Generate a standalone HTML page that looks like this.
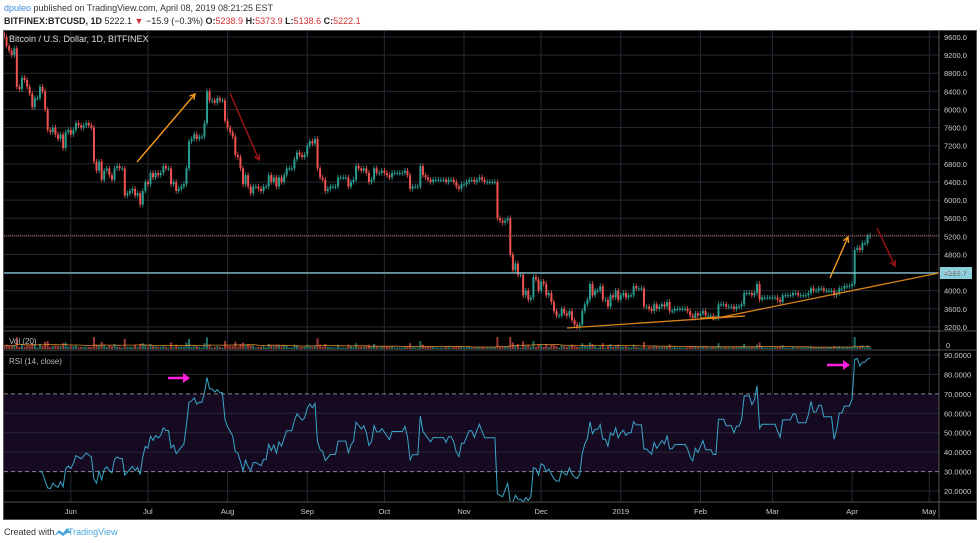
<!DOCTYPE html>
<html><head><meta charset="utf-8">
<style>
html,body{margin:0;padding:0;background:#fff;width:980px;height:543px;overflow:hidden;font-family:"Liberation Sans",sans-serif;}
svg text{font-family:"Liberation Sans",sans-serif;}
</style></head>
<body>
<svg id="chart" width="980" height="543" viewBox="0 0 980 543" xmlns="http://www.w3.org/2000/svg">
  <rect x="0" y="0" width="980" height="543" fill="#ffffff"/>
  <text x="4" y="11" font-size="9" fill="#333"><tspan fill="#3a8ede">dpuleo</tspan> published on TradingView.com, April 08, 2019 08:21:25 EST</text>
  <text x="4" y="24" font-size="9" fill="#222"><tspan font-weight="bold">BITFINEX:BTCUSD, 1D</tspan> 5222.1 <tspan fill="#d32f2f">▼</tspan> −15.9 (−0.3%) <tspan font-weight="bold">O:</tspan><tspan fill="#d32f2f">5238.9</tspan> <tspan font-weight="bold">H:</tspan><tspan fill="#d32f2f">5373.9</tspan> <tspan font-weight="bold">L:</tspan><tspan fill="#d32f2f">5138.6</tspan> <tspan font-weight="bold">C:</tspan><tspan fill="#d32f2f">5222.1</tspan></text>
  <rect x="3" y="30" width="974" height="490" fill="#000"/>
  <g id="grid"></g>
  <rect x="4" y="394" width="935" height="78" fill="#150a22"/>
  <g id="grid2"></g>
  <g id="vol"></g>
  <g id="candles"></g>
  <g id="rsi"></g>
  <g id="overlay"></g>
  <g id="axes"></g>
  <text x="9" y="42" font-size="9" fill="#ddd">Bitcoin / U.S. Dollar, 1D, BITFINEX</text>
  <text x="9" y="344" font-size="8" fill="#bbb">Vol (20)</text>
  <text x="9" y="364" font-size="8" fill="#bbb">RSI (14, close)</text>
  <text x="4" y="535" font-size="9" fill="#333">Created with</text>
  <path d="M54 536 l5 -6 l4 3 l4 -5 l4 5 l-4 0 l-4 3 l-4 -3 z" fill="#46a3d8"/>
  <text x="68" y="535" font-size="9" fill="#46a3d8">TradingView</text>
</svg>
<script>
const closes = [
9600,9400,9300,9200,9350,8500,8450,
8700,8650,8500,8350,8050,8250,8250,
8500,8400,8000,7550,7500,7600,7450,
7350,7450,7150,7500,7550,7450,7550,
7700,7650,7600,7650,7700,7650,7600,
6850,6650,6850,6450,6650,6700,6550,
6450,6700,6750,6700,6700,6100,6150,
6200,6250,6100,6150,5900,6200,6400,
6350,6600,6500,6600,6550,6600,6750,
6700,6700,6350,6400,6200,6250,6300,
6350,6700,7300,7350,7450,7350,7400,
7400,7700,8400,8200,8200,8150,8250,
8200,8200,7750,7600,7500,7400,7000,
6950,6700,6350,6550,6300,6150,6300,
6300,6250,6200,6300,6300,6550,6400,
6500,6300,6500,6400,6550,6700,6700,
6700,6900,7050,7000,6950,7000,7200,
7300,7250,7350,6700,6500,6450,6200,
6250,6300,6300,6300,6500,6500,6500,
6500,6300,6400,6450,6750,6700,6650,
6700,6600,6400,6450,6700,6600,6600,
6650,6600,6550,6500,6600,6600,6600,
6600,6600,6650,6550,6250,6300,6300,
6300,6750,6550,6500,6450,6400,6450,
6450,6450,6450,6450,6400,6450,6450,
6400,6300,6250,6350,6350,6400,6450,
6450,6400,6450,6500,6450,6400,6400,
6400,6400,6400,5600,5550,5500,5550,
5600,4800,4450,4600,4350,4350,3900,
4000,3800,3850,4300,4250,4000,4200,
4150,3900,3950,3750,3550,3450,3450,
3600,3500,3450,3550,3350,3250,3200,
3250,3550,3700,3800,4150,3900,4000,
4000,4100,3800,3800,3650,3900,3850,
4000,3800,3900,3950,3850,3900,3900,
4100,4050,4050,4050,3650,3650,3600,
3550,3700,3600,3650,3700,3650,3750,
3550,3550,3600,3600,3600,3600,3600,
3550,3450,3400,3500,3450,3500,3550,
3450,3450,3450,3400,3400,3700,3700,
3700,3650,3650,3650,3600,3650,3650,
3700,3950,3950,3950,3900,3950,4150,
3800,3850,3850,3850,3850,3850,3850,
3800,3750,3900,3900,3900,3900,3950,
3950,3900,3900,3900,3900,3950,4050,
4000,4000,4050,4050,4000,4000,4000,
4000,3900,3950,4050,4050,4100,4100,
4100,4150,4900,4950,4900,5050,5050,
5200,5222
];
const priceTicks = [9600,9200,8800,8400,8000,7600,7200,6800,6400,6000,5600,5200,4800,4400,4000,3600,3200];
const rsiTicks = [90,80,70,60,50,40,30,20];
const monthLabels = ["Jun","Jul","Aug","Sep","Oct","Nov","Dec","2019","Feb","Mar","Apr","May"];
const monthDays = [26,56,87,118,148,179,209,240,271,299,330,360];
const levelPrice = 4389.7;
const lastPrice = 5222.1;

const NS="http://www.w3.org/2000/svg";
const X0=4, STEP=2.57;
const xd=i=>X0+i*STEP;
const py=p=>37+(9600-p)*0.0453;
const ry=v=>355+(90-v)*1.943;
function mk(tag,attrs,parent){const e=document.createElementNS(NS,tag);for(const k in attrs)e.setAttribute(k,attrs[k]);document.getElementById(parent).appendChild(e);return e;}

priceTicks.forEach(p=>{
  const l=mk('line',{x1:4,x2:939,y1:py(p),y2:py(p),stroke:'#262a33','stroke-width':1},'grid');
  
  
  const t=mk('text',{x:944,y:py(p)+3,'font-size':7.5,fill:'#ccc'},'axes');
  t.textContent=p.toFixed(1);
  
  
});
rsiTicks.forEach(v=>{
  const l=mk('line',{x1:4,x2:939,y1:ry(v),y2:ry(v),stroke:(v===70||v===30)?'#888':'#2a2636','stroke-width':1,'stroke-dasharray':(v===70||v===30)?'4,3':''},'grid2');
  
  
  const t=mk('text',{x:944,y:ry(v)+3,'font-size':7.5,fill:'#ccc'},'axes');
  t.textContent=v.toFixed(4);
  
  
});
monthDays.forEach((d,i)=>{
  const x=xd(d);
  const l=mk('line',{x1:x,x2:x,y1:30,y2:502,stroke:'#262a33','stroke-width':1},'grid');
  
  
  const t=mk('text',{x:x,y:514,'font-size':7.5,fill:'#ccc','text-anchor':'middle'},'axes');
  t.textContent=monthLabels[i];
  
  
});
[[4,331,977,331],[4,350,977,350],[4,502,977,502],[939,30,939,519]].forEach(s=>{
  const l=mk('line',{x1:s[0],y1:s[1],x2:s[2],y2:s[3],stroke:'#555','stroke-width':1},'axes');
  
  
});
const fr=mk('rect',{x:3.5,y:30.5,width:973,height:489,fill:'none',stroke:'#555'},'axes');


const v0=mk('text',{x:946,y:348,'font-size':7.5,fill:'#ccc'},'axes');
v0.textContent='0';



const vhs=[];
for(let i=0;i<closes.length;i++){
  const c=closes[i], o=i>0?closes[i-1]:c+100;
  const up=c>=o, col=up?'#2a9d90':'#ef5350';
  const x=xd(i);
  const hi=Math.max(o,c)+60, lo=Math.min(o,c)-60;
  const w=mk('line',{x1:x,x2:x,y1:py(hi),y2:py(lo),stroke:col,'stroke-width':0.8},'candles');
  
  
  const top=py(Math.max(o,c)), h=Math.max(1,py(Math.min(o,c))-top);
  const b=mk('rect',{x:x-1,y:top,width:2,height:h,fill:col},'candles');
  
  
  const vh=Math.min(12,1.5+Math.abs(c-o)/70);
  vhs.push(vh);
  const vb=mk('rect',{x:x-1,y:349-vh,width:2,height:vh,fill:up?'#1f6f66':'#9b3a36'},'vol');
  
  
}
const vma=[];
for(let i=0;i<vhs.length;i++){const s=vhs.slice(Math.max(0,i-19),i+1);const m=s.reduce((a,b)=>a+b,0)/s.length;vma.push(xd(i).toFixed(1)+','+(349-m).toFixed(1));}
const vm=mk('polyline',{points:vma.join(' '),fill:'none',stroke:'#e08a2a','stroke-width':0.8},'vol');



let ag=0,al=0,pts=[];
for(let i=1;i<closes.length;i++){
  const ch=closes[i]-closes[i-1], g=Math.max(ch,0), l=Math.max(-ch,0);
  if(i<=14){ag+=g/14;al+=l/14;}
  else{ag=(ag*13+g)/14;al=(al*13+l)/14;}
  if(i>=14){const r=al===0?100:100-100/(1+ag/al);pts.push(xd(i).toFixed(1)+','+Math.min(502,ry(r)).toFixed(1));}
}
const rl=mk('polyline',{points:pts.join(' '),fill:'none',stroke:'#3aa6c8','stroke-width':1},'rsi');



const lvl=mk('line',{x1:4,x2:939,y1:py(levelPrice),y2:py(levelPrice),stroke:'#8ccfdd','stroke-width':1.2},'overlay');


const lb=mk('rect',{x:940,y:py(levelPrice)-6,width:32,height:12,fill:'#8ccfdd'},'overlay');


const lt=mk('text',{x:944,y:py(levelPrice)+3,'font-size':7.5,fill:'#134'},'overlay');
lt.textContent=levelPrice.toFixed(1);


const lp=mk('line',{x1:4,x2:939,y1:py(lastPrice),y2:py(lastPrice),stroke:'#b05050','stroke-width':1,'stroke-dasharray':'1,1'},'overlay');



function arrow(x1,y1,x2,y2,col,name){
  const l=mk('line',{x1,y1,x2,y2,stroke:col,'stroke-width':1.4},'overlay');
  
  
  const a=Math.atan2(y2-y1,x2-x1),s=6;
  const p=mk('polyline',{points:`${x2-s*Math.cos(a-0.5)},${y2-s*Math.sin(a-0.5)} ${x2},${y2} ${x2-s*Math.cos(a+0.5)},${y2-s*Math.sin(a+0.5)}`,fill:'none',stroke:col,'stroke-width':1.4},'overlay');
  
  
}
arrow(137,162,195,94,'#f59a1c','up-arrow-1');
arrow(230,93,259,160,'#a01414','down-arrow-1');
arrow(830,278,848,237,'#f59a1c','up-arrow-2');
arrow(877,228,895,266,'#a01414','down-arrow-2');
[[567,328,745,316],[700,318,745,316],[712,319,939,273]].forEach(s=>{
  const l=mk('line',{x1:s[0],y1:s[1],x2:s[2],y2:s[3],stroke:'#d9831a','stroke-width':1.3},'overlay');
  
  
});
[[168,378,190,378],[827,365,850,365]].forEach(s=>{
  const l=mk('line',{x1:s[0],y1:s[1],x2:s[2]-3,y2:s[3],stroke:'#ff1fe0','stroke-width':2.5},'overlay');
  
  
  const p=mk('polygon',{points:`${s[2]-7},${s[3]-5} ${s[2]},${s[3]} ${s[2]-7},${s[3]+5}`,fill:'#ff1fe0'},'overlay');
  
  
});
</script>
</body></html>
